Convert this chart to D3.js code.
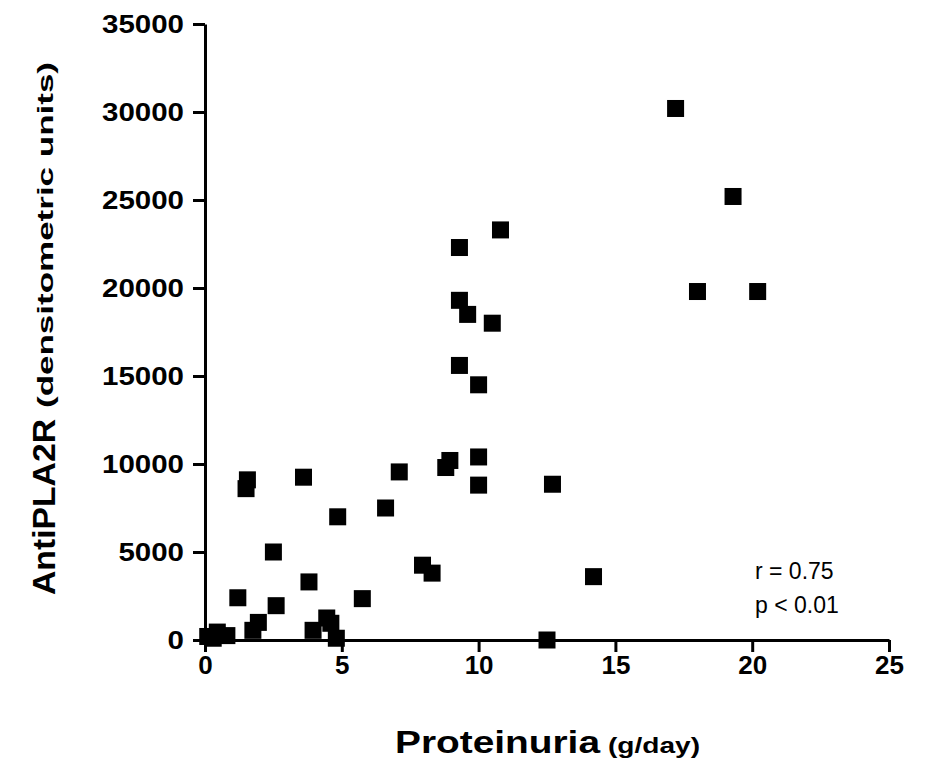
<!DOCTYPE html>
<html>
<head>
<meta charset="utf-8">
<script src="https://cdn.jsdelivr.net/npm/d3@7"></script>
<style>
  body { margin: 0; background: #fff; }
  svg { display: block; font-family: "Liberation Sans", Arial, sans-serif; }
</style>
</head>
<body>
<svg width="926" height="778"></svg>
<script>
const proteinuria = [17.2, 19.3, 18.0, 20.2, 10.8, 9.3, 9.3, 9.6, 10.5, 9.3, 10.0, 10.0, 8.95, 8.8, 10.0,
                     7.1, 6.6, 7.95, 8.3, 12.7, 14.2, 12.5, 1.55, 1.5, 3.6, 4.85, 2.5, 3.8, 1.2, 2.6,
                     5.75, 1.95, 1.75, 3.95, 4.45, 4.6, 4.8, 0.1, 0.45, 0.8, 0.3];
const antiPLA2R = [30200, 25200, 19800, 19800, 23300, 22300, 19300, 18500, 18000, 15600, 14500, 10400, 10200, 9800, 8800,
                   9550, 7500, 4250, 3800, 8850, 3600, 0, 9100, 8600, 9250, 7000, 5000, 3300, 2400, 1950,
                   2350, 1000, 550, 550, 1250, 950, 100, 200, 450, 250, 100];
const xTicks = [0, 5, 10, 15, 20, 25];
const yTicks = [0, 5000, 10000, 15000, 20000, 25000, 30000, 35000];
const stats = ["r = 0.75", "p < 0.01"];

const svg = d3.select("svg");
const x = d3.scaleLinear().domain([0, 25]).range([205, 889]);
const y = d3.scaleLinear().domain([0, 35000]).range([640, 24]);

//axes
const yAxis = svg.append("g")
    .attr("transform", `translate(${x(0)},0)`)
    .call(d3.axisLeft(y).tickValues(yTicks).tickFormat(d3.format("d")).tickSize(12).tickPadding(9).tickSizeOuter(0));
const xAxis = svg.append("g")
    .attr("transform", `translate(0,${y(0)})`)
    .call(d3.axisBottom(x).tickValues(xTicks).tickSize(12).tickPadding(4).tickSizeOuter(0));

[xAxis, yAxis].forEach(a => {
    a.select(".domain").attr("stroke", "#000").attr("stroke-width", 3);
    a.selectAll(".tick line").attr("stroke", "#000").attr("stroke-width", 3);
    a.selectAll(".tick text")
        .attr("fill", "#000")
        .style("font-size", "26px")
        .style("font-weight", "bold")
        .style("font-family", "'Liberation Sans', Arial, sans-serif");
});
// the original labels are a bit wider than the font
yAxis.selectAll(".tick text")
    .attr("textLength", d => String(d).length * 16.4)
    .attr("lengthAdjust", "spacingAndGlyphs");

//points
svg.append("g")
    .selectAll("rect")
    .data(proteinuria.map((p, i) => ({p: p, a: antiPLA2R[i]})))
    .enter()
    .append("rect")
        .attr("x", d => x(d.p) - 8.5)
        .attr("y", d => y(d.a) - 8.5)
        .attr("width", 17)
        .attr("height", 17)
        .attr("fill", "#000");

//titles
svg.append("text")
    .attr("x", 395).attr("y", 753)
    .attr("font-weight", "bold").attr("font-size", 31)
    .attr("textLength", 205).attr("lengthAdjust", "spacingAndGlyphs")
    .text("Proteinuria");
svg.append("text")
    .attr("x", 608).attr("y", 753)
    .attr("font-weight", "bold").attr("font-size", 22)
    .attr("textLength", 92).attr("lengthAdjust", "spacingAndGlyphs")
    .text("(g/day)");

svg.append("text")
    .attr("transform", "translate(55,595) rotate(-90)")
    .attr("font-weight", "bold").attr("font-size", 31)
    .attr("textLength", 176).attr("lengthAdjust", "spacingAndGlyphs")
    .text("AntiPLA2R");
svg.append("text")
    .attr("transform", "translate(53,408) rotate(-90)")
    .attr("font-weight", "bold").attr("font-size", 22)
    .attr("textLength", 346).attr("lengthAdjust", "spacingAndGlyphs")
    .text("(densitometric units)");

svg.append("g")
    .selectAll("text")
    .data(stats)
    .enter()
    .append("text")
        .attr("x", 755)
        .attr("y", (d, i) => 579 + i * 34)
        .attr("font-size", 23)
        .text(d => d);
</script>
</body>
</html>
